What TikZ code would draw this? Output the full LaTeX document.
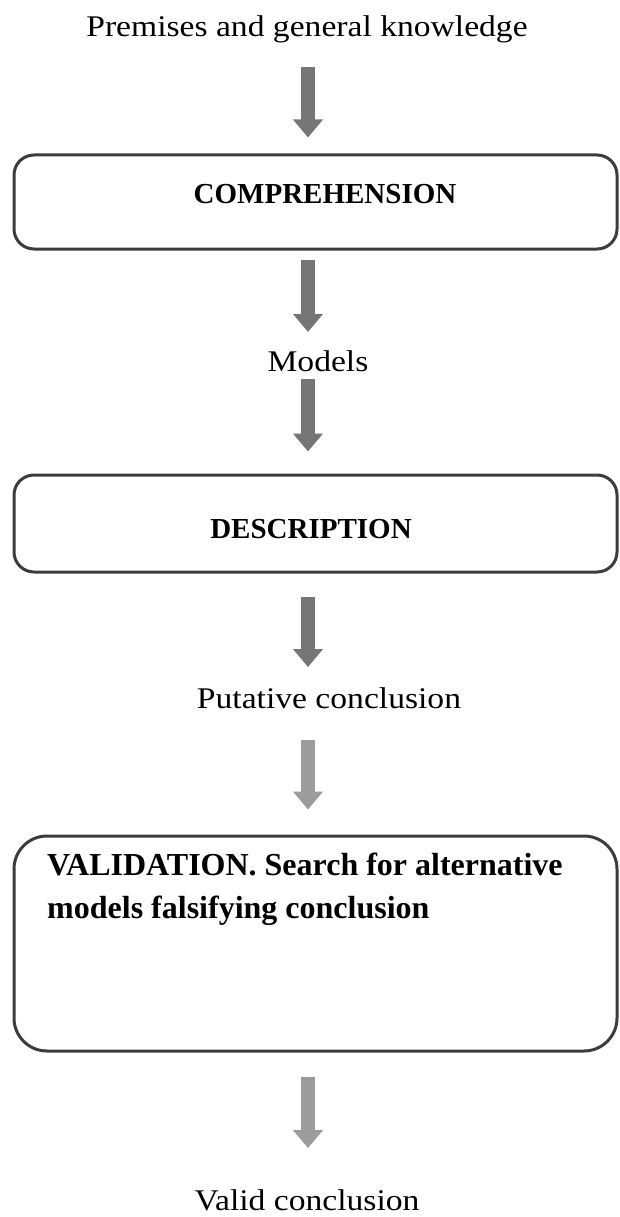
\documentclass[tikz,border=0pt]{standalone}
\usepackage{fontspec}
\setmainfont{Liberation Serif}
\newfontfamily\flowserif{Liberation Serif}[FakeStretch=1.12]
\usetikzlibrary{arrows.meta}

\definecolor{boxgray}{HTML}{3C3C3C}
\definecolor{arrowdark}{HTML}{767676}
\definecolor{arrowlight}{HTML}{9C9C9C}

\begin{document}
\begin{tikzpicture}[x=1pt, y=-1pt,
    stagebox/.style={draw=boxgray, line width=3pt, rounded corners=20pt,
      minimum width=603pt, inner sep=0pt},
    stagetitle/.style={font=\fontsize{29}{35}\selectfont\bfseries, anchor=base, inner sep=0pt},
    flowtext/.style={font=\fontsize{30}{36}\flowserif, anchor=base, inner sep=0pt},
    flowarrow/.style={draw=arrowdark, line width=14pt,
      -{Triangle[length=18pt, width=29pt]}},
    lightarrow/.style={flowarrow, draw=arrowlight}]
  \useasboundingbox (0, 0) rectangle (620, 1217);

  % inputs
  \node[flowtext] (premises) at (307, 37) {Premises and general knowledge};

  % stage 1
  \node[stagebox, minimum height=94pt] (comp) at (315.5, 202) {};
  \node[stagetitle] (comptitle) at (325, 204) {COMPREHENSION};

  \node[flowtext] (models) at (318, 371) {Models};

  % stage 2
  \node[stagebox, minimum height=97pt] (descr) at (315.5, 523.5) {};
  \node[stagetitle] (descrtitle) at (311, 538) {DESCRIPTION};

  \node[flowtext] (putative) at (329, 708) {Putative conclusion};

  % stage 3 (base of a two-line node is its last line)
  \node[stagebox, rounded corners=33pt, minimum height=215pt] (valid) at (315.5, 943.5) {};
  \node[font=\fontsize{32}{43}\selectfont\bfseries, align=left, anchor=base west,
        inner sep=0pt] (validtitle) at (47, 918)
        {VALIDATION. Search for alternative\\models falsifying conclusion};

  \node[flowtext] (final) at (307, 1210) {Valid conclusion};

  % arrows between the steps
  \draw[flowarrow] ([xshift=1pt, yshift=-30pt]premises.base) -- ([xshift=-7.5pt, yshift=16pt]comp.north);
  \draw[flowarrow] ([xshift=-7.5pt, yshift=-9pt]comp.south) -- ([xshift=-10pt, yshift=39pt]models.base);
  \draw[flowarrow] ([xshift=-10pt, yshift=-8pt]models.base) -- ([xshift=-7.5pt, yshift=22pt]descr.north);
  \draw[flowarrow] ([xshift=-7.5pt, yshift=-23pt]descr.south) -- ([xshift=-21pt, yshift=41pt]putative.base);
  \draw[lightarrow] ([xshift=-21pt, yshift=-32pt]putative.base) -- ([xshift=-7.5pt, yshift=25pt]valid.north);
  \draw[lightarrow] ([xshift=-7.5pt, yshift=-24pt]valid.south) -- ([xshift=1pt, yshift=62pt]final.base);
\end{tikzpicture}
\end{document}
